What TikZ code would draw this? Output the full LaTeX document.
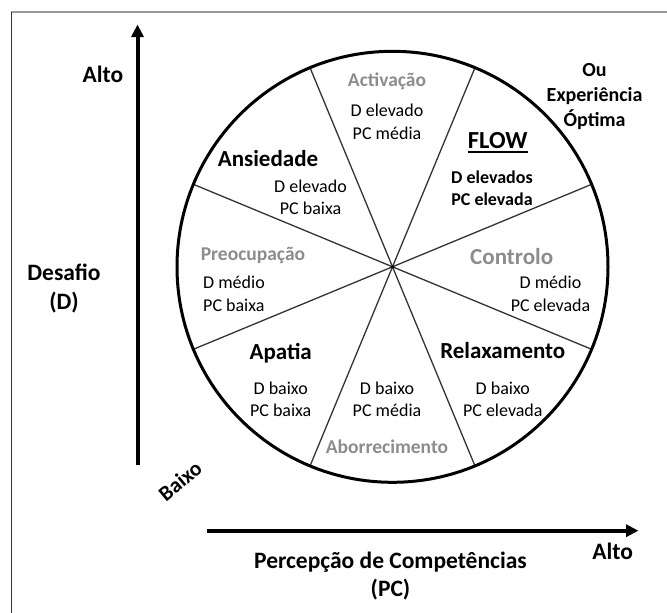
\documentclass[tikz,border=0pt]{standalone}
\usepackage{fontspec}
\setmainfont{Carlito}
\usetikzlibrary{arrows.meta}
\definecolor{lblgray}{HTML}{8C8C8C}
\definecolor{framegray}{HTML}{999999}
\begin{document}
\begin{tikzpicture}[x=1pt,y=-1pt,
  axislbl/.style={font=\bfseries\fontsize{23.5}{28.5}\selectfont, inner sep=0, align=center},
  zone/.style={font=\bfseries\fontsize{23}{27}\selectfont, inner sep=0},
  grayzone/.style={font=\bfseries\fontsize{19.5}{23}\selectfont, text=lblgray, inner sep=0},
  subtxt/.style={font=\fontsize{18}{22.6}\selectfont, align=center, inner sep=0},
  axisarrow/.style={line width=4pt, -{Triangle[width=12pt,length=12.5pt]}},
  spoke/.style={line width=1.3pt, draw=black!80},
  wheel/.style={line width=3pt}]
\useasboundingbox (0,0) rectangle (667,613);
% frame
\draw[framegray, line width=1.3pt] (11,12) -- (667,12);
\draw[black!80, line width=1pt] (11.5,12) -- (11.5,613);

% axes
\coordinate (vbot) at (137.5,465);
\coordinate (vtop) at (137.5,24.5);
\coordinate (hleft) at (207,530.7);
\coordinate (hright) at (638.5,530.7);
\draw[axisarrow] (vbot) -- (vtop);
\draw[axisarrow] (hleft) -- (hright);

% wheel
\coordinate (c) at (392.5,266.8);
\foreach \a in {22.5,67.5,...,337.5}
  \draw[spoke] (c) -- ++(\a:215.5);
\draw[wheel] (c) circle[radius=215.5];
\fill (c) circle[radius=1.8];

% axis labels
\node[axislbl] (altoL) at (103,74.3) {Alto};
\node[axislbl] (desafio) at (64,288.4) {Desafio\\(D)};
\node[axislbl, font=\bfseries\fontsize{21.5}{24}\selectfont, rotate=40] (baixo) at (180,481) {Baixo};
\node[axislbl] (percep) at (390.5,576) {Percepção de Competências\\(PC)};
\node[axislbl] (altoR) at (612.7,551.7) {Alto};
\node[axislbl, font=\bfseries\fontsize{20}{25}\selectfont] (ou) at (594.6,96.4) {Ou\\Experiência\\Óptima};

% sectors
\node[grayzone] (activ) at (387,81.3) {Activação};
\node[subtxt] (activsub) at (387,121.6) {D elevado\\PC média};

\node[font=\bfseries\fontsize{24.5}{28}\selectfont, inner sep=0, anchor=base] (flow) at (497.7,148) {FLOW};
\draw[line width=1.5pt] ([yshift=-3.8pt]flow.base west) -- ([yshift=-3.8pt]flow.base east);
\node[subtxt, font=\bfseries\fontsize{18}{22.6}\selectfont] (flowsub) at (492,188.2) {D elevados\\PC elevada};

\node[zone] (ansied) at (268,158.4) {Ansiedade};
\node[subtxt] (ansiedsub) at (310.5,197.3) {D elevado\\PC baixa};

\node[grayzone] (preoc) at (253,255) {Preocupação};
\node[subtxt, align=left, anchor=west] (preocsub) at (203,293.7) {D médio\\PC baixa};

\node[grayzone, font=\bfseries\fontsize{23}{27}\selectfont] (control) at (511.7,257) {Controlo};
\node[subtxt] (controlsub) at (550.5,293.7) {D médio\\PC elevada};

\node[zone] (apatia) at (280.7,353) {Apatia};
\node[subtxt] (apatiasub) at (280.7,399.3) {D baixo\\PC baixa};

\node[subtxt] (aborrsub) at (387,399.3) {D baixo\\PC média};
\node[grayzone] (aborr) at (387,447) {Aborrecimento};

\node[zone] (relax) at (502.8,350.8) {Relaxamento};
\node[subtxt] (relaxsub) at (502.8,399.3) {D baixo\\PC elevada};
\end{tikzpicture}
\end{document}
